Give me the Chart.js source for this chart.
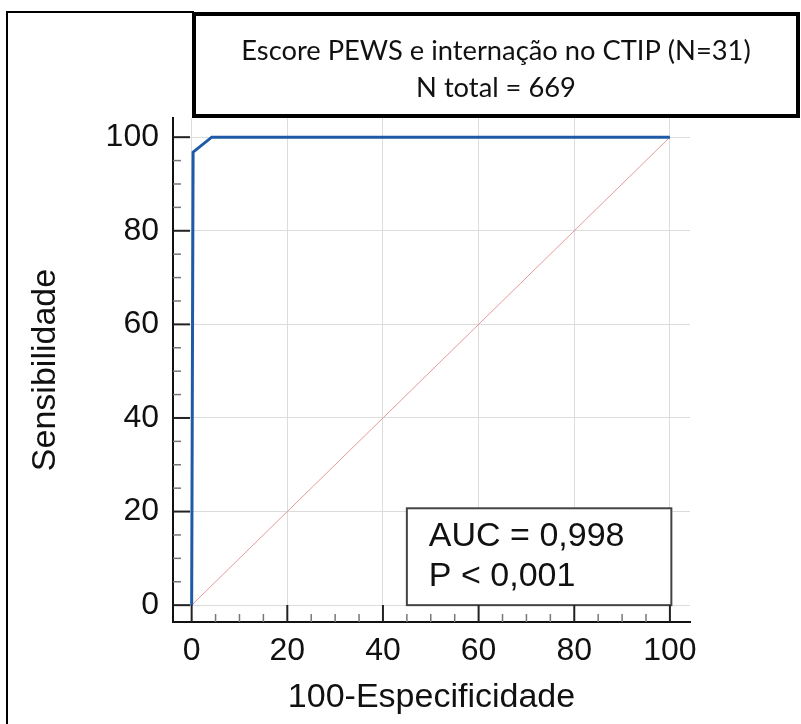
<!DOCTYPE html>
<html>
<head>
<meta charset="utf-8">
<script src="https://cdn.jsdelivr.net/npm/chart.js@4.4.0/dist/chart.umd.min.js"></script>
<style>
html,body{margin:0;padding:0;background:#fff;}
#wrap{width:801px;height:724px;position:relative;}
</style>
</head>
<body>
<div id="wrap"><canvas id="roc" width="801" height="724"></canvas></div>
<script>
// ROC curve (100-specificity vs sensitivity)
const rocX = [0, 0.3, 4.2, 100];
const rocY = [0, 96.8, 100, 100];
// reference diagonal
const diagX = [0, 100];
const diagY = [0, 100];
const majorTicks = [0, 20, 40, 60, 80, 100];
const titleLines = ['Escore PEWS e internação no CTIP (N=31)', 'N total = 669'];
const statLines = ['AUC = 0,998', 'P < 0,001'];
const xTitle = '100-Especificidade';
const yTitle = 'Sensibilidade';

const axisFont = 'Liberation Sans, Arial, sans-serif';

const decor = {
  id: 'decor',
  afterDatasetsDraw(chart) {
    const {ctx, scales: {x, y}, chartArea: a} = chart;
    ctx.save();
    // stats box (covers grid)
    const bx0 = x.getPixelForValue(45), bx1 = x.getPixelForValue(100.3);
    const by0 = y.getPixelForValue(20.7), by1 = y.getPixelForValue(0);
    ctx.fillStyle = '#fff';
    ctx.fillRect(bx0, by0, bx1 - bx0, by1 - by0);
    ctx.strokeStyle = '#444';
    ctx.lineWidth = 2;
    ctx.strokeRect(bx0, by0, bx1 - bx0, by1 - by0);
    ctx.fillStyle = '#111';
    ctx.font = '34px ' + axisFont;
    ctx.textBaseline = 'alphabetic';
    ctx.textAlign = 'left';
    ctx.fillText(statLines[0], bx0 + 22, by0 + 38);
    ctx.fillText(statLines[1], bx0 + 22, by0 + 78);

    // tick marks pointing inward, minor every 5
    for (let v = 0; v <= 100; v += 5) {
      const major = v % 20 === 0;
      const len = major ? 17 : 8;
      ctx.strokeStyle = major ? '#222' : '#777';
      ctx.lineWidth = major ? 2 : 1.5;
      const px = x.getPixelForValue(v);
      ctx.beginPath(); ctx.moveTo(px, a.bottom); ctx.lineTo(px, a.bottom - len); ctx.stroke();
      const py = y.getPixelForValue(v);
      ctx.beginPath(); ctx.moveTo(a.left, py); ctx.lineTo(a.left + len, py); ctx.stroke();
    }
    ctx.restore();
  },
  afterDraw(chart) {
    const {ctx} = chart;
    ctx.save();
    // outer frame (left and top edges)
    ctx.strokeStyle = '#000';
    ctx.lineWidth = 2;
    ctx.beginPath(); ctx.moveTo(7, 724); ctx.lineTo(7, 12); ctx.lineTo(194, 12); ctx.stroke();
    // title box
    ctx.fillStyle = '#fff';
    ctx.fillRect(194, 14, 604, 102);
    ctx.lineWidth = 4;
    ctx.strokeRect(194, 14, 604, 102);
    ctx.fillStyle = '#111';
    // size the title font so the first line spans about 510px, like the original
    ctx.font = '26px Lato, "Open Sans", sans-serif';
    const w = ctx.measureText(titleLines[0]).width;
    const size = Math.round(26 * 510 / w * 10) / 10;
    ctx.font = size + 'px Lato, "Open Sans", sans-serif';
    ctx.textAlign = 'center';
    ctx.textBaseline = 'middle';
    ctx.fillText(titleLines[0], 496, 51);
    ctx.fillText(titleLines[1], 496, 88);
    ctx.restore();
  }
};

new Chart(document.getElementById('roc'), {
  type: 'scatter',
  data: {
    datasets: [
      {
        data: rocX.map((v, i) => ({x: v, y: rocY[i]})),
        showLine: true, borderColor: '#1f5aa6', borderWidth: 3,
        pointRadius: 0, tension: 0
      },
      {
        data: diagX.map((v, i) => ({x: v, y: diagY[i]})),
        showLine: true, borderColor: '#e59a9a', borderWidth: 1,
        pointRadius: 0, tension: 0
      }
    ]
  },
  options: {
    responsive: false,
    animation: false,
    layout: {padding: {top: 118, right: 111, left: 0, bottom: 0}},
    plugins: {legend: {display: false}, tooltip: {enabled: false}},
    scales: {
      x: {
        type: 'linear', min: -3.9, max: 104.2,
        afterBuildTicks: s => { s.ticks = majorTicks.map(v => ({value: v})); },
        afterFit: s => { s.height = 102; },
        grid: {color: '#dcdcdc', lineWidth: 1, drawTicks: false},
        border: {color: '#111', width: 2},
        ticks: {font: {family: axisFont, size: 32}, color: '#111', padding: 10, maxRotation: 0, autoSkip: false},
        title: {display: true, text: xTitle, color: '#111', font: {family: axisFont, size: 34}, padding: {top: 0, bottom: 6}}
      },
      y: {
        type: 'linear', min: -3.6, max: 104.1,
        afterBuildTicks: s => { s.ticks = majorTicks.map(v => ({value: v})); },
        afterFit: s => { s.width = 173; },
        grid: {color: '#dcdcdc', lineWidth: 1, drawTicks: false},
        border: {color: '#111', width: 2},
        ticks: {font: {family: axisFont, size: 32}, color: '#111', padding: 14, autoSkip: false},
        title: {display: true, text: yTitle, color: '#111', font: {family: axisFont, size: 34}, padding: {top: 25, bottom: 0}}
      }
    }
  },
  plugins: [decor]
});
</script>
</body>
</html>
